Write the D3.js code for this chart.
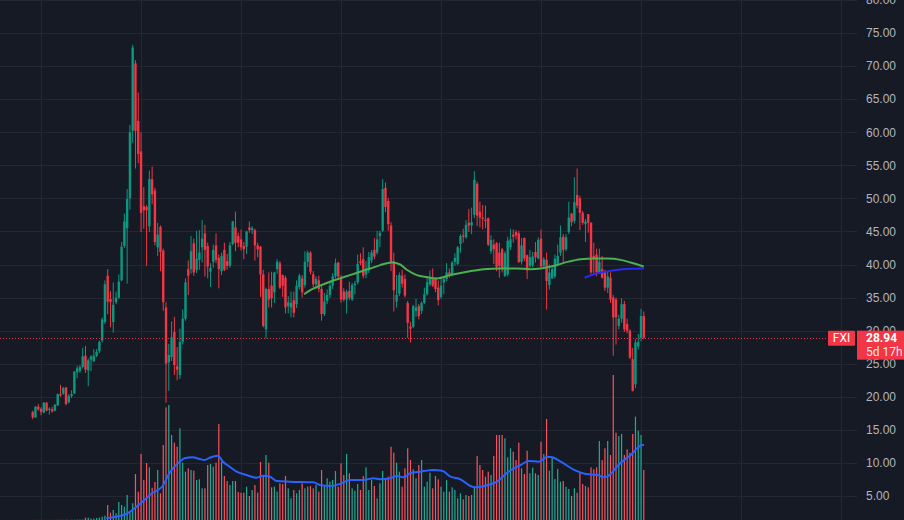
<!DOCTYPE html>
<html>
<head>
<meta charset="utf-8">
<script src="https://cdn.jsdelivr.net/npm/d3@7"></script>
<style>
html, body { margin: 0; padding: 0; background: #161a25; overflow: hidden; }
svg { display: block; }
</style>
</head>
<body>
<script>
var ticker = "FXI";
var lastPrice = 28.94;
var countdown = "5d 17h";
var firstYear = 2004, firstMonth = 10;   // first monthly bar: Oct 2004
var gridYears = [2005, 2008, 2011, 2014, 2017, 2020, 2023, 2026, 2029];
var priceTicks = [5, 10, 15, 20, 25, 30, 35, 40, 45, 50, 55, 60, 65, 70, 75, 80];

// monthly bars [open, high, low, close]
var ohlc = [
  [17.7,17.9,16.6,16.9],[16.9,18.6,16.8,18.5],[18.5,18.9,17.9,18.1],[18.2,18.4,17.2,17.7],[17.6,19.2,17.5,19.1],
  [19.1,19.2,17.8,17.9],[18.0,18.4,17.3,18.2],[18.1,18.5,17.6,17.8],[17.9,18.9,17.8,18.8],[18.7,20.5,18.6,20.4],
  [20.4,21.8,20.0,20.2],[20.5,21.5,20.3,21.3],[21.4,21.5,18.7,18.9],[19.2,20.4,19.0,20.1],[20.1,21.0,19.8,20.4],
  [20.5,23.9,20.4,23.8],[23.7,24.7,22.8,24.3],[23.9,24.8,23.6,24.5],[24.5,27.4,24.3,26.1],[26.2,27.7,23.6,24.1],
  [24.0,25.8,21.6,25.5],[25.6,26.3,23.9,26.1],[25.4,27.2,25.2,26.2],[26.2,27.2,26.0,26.8],[26.9,28.5,26.6,28.3],
  [28.5,32.0,28.2,31.7],[31.3,37.6,31.0,37.0],[38.3,39.3,32.5,34.4],[34.8,36.0,30.5,34.3],[31.3,37.3,29.7,33.9],
  [34.3,35.9,34.0,35.0],[35.0,38.5,34.8,37.4],[37.6,43.4,37.5,42.7],[42.8,47.7,42.5,46.5],[45.5,51.4,37.1,49.9],
  [50.0,61.1,48.3,60.0],[60.2,73.2,58.4,72.8],[70.4,70.9,54.5,60.2],[61.7,66.0,55.3,56.7],[57.1,60.0,44.9,47.8],
  [48.8,51.7,45.4,48.2],[48.7,49.0,39.8,48.2],[45.8,54.2,44.9,52.9],[52.9,54.8,49.1,50.6],[51.2,51.6,42.9,43.4],
  [42.6,46.3,41.3,44.5],[45.7,45.9,39.0,41.9],[42.1,42.4,33.0,34.3],[33.5,34.3,19.1,25.0],[25.2,28.0,20.9,26.3],
  [26.0,31.4,25.4,29.0],[29.8,32.1,23.3,24.8],[24.6,27.5,22.5,24.1],[23.3,30.3,22.7,28.3],[28.3,33.2,27.9,31.8],
  [31.8,37.9,31.5,37.3],[39.3,40.6,35.4,38.3],[39.3,44.3,38.6,42.0],[43.2,43.9,38.3,38.8],[39.2,45.1,38.7,40.9],
  [40.7,45.2,39.2,41.8],[42.6,46.7,40.3,43.9],[44.7,46.0,38.2,42.2],[42.8,43.3,37.9,39.7],[38.9,40.2,36.6,39.5],
  [40.4,43.0,39.5,42.2],[42.9,44.7,40.2,40.7],[41.0,41.5,36.4,39.3],[39.0,41.8,38.4,41.3],[42.2,43.3,39.0,39.2],
  [40.5,41.6,39.2,39.8],[39.8,43.4,39.5,42.9],[43.1,46.6,42.9,46.5],[45.6,48.0,42.0,43.3],[44.3,44.8,42.6,43.3],
  [43.8,45.3,42.1,42.6],[42.8,43.4,40.8,42.3],[42.7,45.1,41.6,45.0],[45.6,46.5,44.8,45.2],[45.2,45.8,44.6,45.5],
  [45.2,45.4,40.6,42.9],[42.9,43.3,41.1,42.3],[42.7,42.8,35.1,38.5],[38.5,39.2,30.5,30.7],[30.2,36.5,28.8,36.3],
  [36.3,38.8,33.5,34.7],[36.8,38.9,33.5,34.9],[35.8,38.9,34.2,38.8],[39.3,40.8,38.6,40.4],[40.2,40.5,36.3,36.5],
  [38.4,38.5,35.1,36.8],[38.0,38.3,32.6,33.5],[33.7,35.2,32.6,34.3],[33.5,35.9,32.0,34.2],[34.6,35.9,32.0,32.7],
  [34.0,37.6,33.4,36.8],[36.6,38.6,36.2,38.3],[37.9,38.4,35.0,35.8],[36.9,42.0,36.5,40.4],[40.4,42.1,39.6,41.8],
  [41.8,42.0,38.5,38.9],[38.5,39.0,36.6,37.0],[37.0,38.2,36.3,37.8],[37.6,38.3,35.8,36.3],[36.3,36.8,31.5,32.5],
  [32.5,35.7,32.2,34.4],[34.5,36.2,34.0,35.4],[35.4,37.4,34.9,36.8],[36.8,38.7,36.3,38.2],[38.2,40.9,37.9,40.2],
  [40.3,40.4,37.7,38.2],[38.0,38.4,34.2,34.7],[35.9,36.4,34.4,34.7],[34.7,36.2,32.6,35.9],[36.0,37.4,34.6,35.0],
  [34.7,37.2,34.5,36.9],[36.9,37.5,35.5,37.1],[37.3,41.5,37.0,40.1],[40.5,41.7,39.9,40.2],[40.8,42.6,37.9,38.3],
  [38.5,40.5,37.9,39.4],[39.1,41.9,38.7,41.1],[40.6,42.2,40.2,41.8],[42.2,44.0,40.8,41.2],[41.8,45.1,41.5,43.8],
  [44.3,45.1,42.6,44.8],[45.1,52.9,44.9,51.4],[51.6,52.4,47.9,48.7],[49.6,50.1,45.1,46.1],[45.9,46.4,39.0,40.3],
  [40.5,41.8,32.9,36.1],[34.4,38.4,33.5,35.4],[35.6,38.8,35.2,38.4],[38.3,39.2,36.5,37.1],[37.8,38.5,35.0,35.3],
  [34.2,34.5,28.9,31.2],[30.6,31.3,28.2,30.3],[30.6,33.9,30.4,33.7],[33.0,34.8,32.1,33.5],[33.7,34.0,31.7,32.2],
  [33.0,34.4,32.5,34.2],[34.2,36.5,34.0,35.5],[35.5,38.0,35.3,37.3],[37.0,39.1,36.7,38.0],[38.0,39.4,36.6,36.8],
  [37.8,38.0,35.8,36.3],[36.5,37.6,33.8,34.6],[35.1,37.9,34.8,36.8],[37.3,38.0,35.5,37.8],[37.8,40.2,37.5,38.8],
  [38.8,39.4,38.0,38.5],[38.5,40.5,38.2,40.3],[40.4,41.7,39.8,41.0],[40.1,42.8,39.9,42.6],[43.1,44.6,41.8,44.3],
  [44.4,45.4,43.3,44.2],[44.1,46.7,43.9,46.0],[46.3,48.4,44.9,45.9],[45.9,48.6,44.6,46.4],[47.5,54.1,47.0,52.8],
  [52.2,52.5,45.8,47.4],[48.0,49.5,45.6,47.1],[47.1,49.0,45.3,46.9],[46.8,48.9,45.5,46.6],[47.0,47.1,42.8,43.0],
  [42.0,44.4,41.6,43.7],[43.0,43.8,40.1,42.3],[43.2,43.4,39.0,39.6],[41.8,43.3,38.0,39.8],[42.3,42.5,38.8,39.3],
  [38.3,42.0,38.1,41.7],[38.5,44.2,38.2,43.6],[42.6,45.4,42.2,43.8],[44.5,45.3,43.3,44.2],[44.9,45.2,43.8,44.4],
  [44.7,45.1,40.2,40.4],[40.4,44.0,40.0,42.9],[44.0,44.1,40.5,40.9],[41.4,41.5,37.8,39.1],[39.8,42.2,39.5,41.1],
  [39.9,41.9,39.6,41.2],[41.9,43.4,40.3,41.1],[40.9,44.1,40.8,43.7],[43.9,45.3,39.6,39.7],[39.8,41.1,39.5,40.8],
  [40.7,41.8,33.2,37.5],[36.9,40.0,36.2,38.8],[37.9,39.8,37.8,39.3],[38.2,41.5,37.9,40.9],[39.9,43.0,39.7,41.3],
  [41.8,45.9,41.3,44.1],[44.2,44.6,40.4,42.2],[42.3,44.6,42.0,44.1],[44.9,49.5,44.6,47.1],[47.7,47.8,45.8,46.4],
  [46.6,53.2,46.2,49.4],[50.5,54.5,48.5,48.9],[50.0,50.4,45.2,47.8],[47.8,48.1,46.0,46.3],[46.1,46.9,43.4,46.5],
  [47.6,47.6,44.8,46.3],[46.3,46.4,38.6,38.8],[41.3,43.3,38.6,40.9],[41.5,42.4,38.2,38.8],[38.8,42.4,38.6,40.4],
  [39.3,41.3,37.9,38.0],[39.0,39.2,36.0,36.5],[36.5,39.0,35.7,38.2],[38.0,38.8,34.2,34.7],[35.0,35.4,26.2,32.0],
  [34.7,35.0,27.9,32.0],[30.7,32.4,30.2,31.8],[31.8,34.9,31.2,34.0],[34.0,34.5,29.8,30.2],[31.0,31.8,29.6,30.0],
  [30.0,30.2,25.7,25.9],[25.7,27.4,20.8,20.9],[21.9,28.7,21.3,28.2],[27.6,29.5,27.2,28.3],[28.9,33.3,28.4,32.2],
  [32.2,32.9,28.7,28.94]
];

// monthly volume (millions of shares)
var volume = [
  0.1,0.1,0.1,0.1,0.1,0.1,0.1,0.1,0.1,0.2,
  0.2,0.2,0.3,0.2,0.2,0.3,0.4,0.4,0.5,2.3,
  2.3,1.5,1.5,2.0,2.5,3.3,4.3,15,7.3,10,
  6.7,18,15,13.3,25,8.3,16.7,46,28.3,66,
  40,57,52.7,32.3,38,50,26.7,75,112.7,115,
  85,77.3,73.3,91.7,57.3,48.3,51.7,50,49.3,40,
  40.7,31.7,31.7,55,56,53.3,57.3,96,58.3,44,
  39,35,39,39,28,27.3,27.3,33.3,24,30,
  35,27.3,58,45,65,57.3,32.7,33.3,28.3,36.7,
  36,44,31.7,21.7,30,26.7,30,36.7,31.7,33.3,
  34,31.7,35,28.3,50,33.3,41.7,38.3,40,49,
  33.3,56.7,45,66,46.7,31.7,29.3,36,30,44,
  52.7,30,40,34,21.7,36.7,49,40,43.3,73.3,
  67.3,57.3,48.3,33.3,51.7,71.7,60,50.7,41.7,55,
  60,33.3,38.3,47.3,31.7,44,40.7,33.3,28.3,40,
  28.3,32.7,30,21.7,26.7,20.7,25,24,25,33.3,
  64,55,50,43.3,48.3,45,64,85,85,85,
  81.7,62.7,71.7,68.3,60,77.3,51.7,46,69.3,46.7,
  52.3,46.7,45,78.3,66,101,49.3,62.7,41,51,
  38.3,39,33.3,31,24,31.7,27.3,47.3,36,34,
  32.7,52.7,50.7,52.7,79,60,71.7,79,65,145,
  87.3,84,86,65,70.7,67.3,86,103.3,89.3,85,
  50
];

// moving averages: [bar index, value]
var maGreen = [[97.7,35.5],[99.8,36.1],[103.4,36.8],[107,37.4],[110.6,37.9],[114.2,38.4],[117.9,38.9],
  [121.5,39.4],[125.1,39.9],[127.5,40.2],[129.3,40.3],[132.3,40.0],[134.7,39.2],[138.3,38.4],[141.9,38.1],
  [145.6,37.9],[150.4,38.4],[156.4,38.9],[162.4,39.3],[168.4,39.4],[174.4,39.4],[179.2,39.3],[182.8,39.4],
  [187.7,39.8],[192.5,40.4],[197.3,40.8],[202.1,40.9],[206.9,40.9],[211.7,40.7],[215.3,40.3],[220,39.7]];
var maBlue = [[198.7,38.0],[202.6,38.6],[207.4,39.0],[212.2,39.3],[220,39.4]];
var volMa = [[26.5,1.7],[30,3.3],[33.6,6],[35.9,10],[39.5,18.3],[43.1,27],[46.8,34],[49.3,47.3],
  [52.9,58.3],[54.7,61.7],[57.6,62.7],[60.1,61],[61.9,60],[63.7,62.3],[66.7,64.3],[68.5,58.3],[70.9,53.3],
  [73.4,48.3],[77,45],[80.6,42.3],[83,44.3],[85.4,43.3],[87.8,39],[92.6,38.3],[101,37.7],[103.4,35],
  [107,34],[110.6,36],[114.3,40],[119.1,40],[122.7,41.7],[125.1,40.7],[128.7,41.7],[131.1,44],[133.5,42.7],
  [135.9,46.7],[139.5,48.3],[144.3,50],[147.4,49.3],[150.4,43.3],[154,40.7],[157.6,34],[159.4,32.7],
  [163.6,34.7],[167.2,38.3],[170.8,47.3],[175.6,55],[178.6,59],[182.2,58.3],[185.3,63.3],[187.1,62.7],
  [190.1,58.3],[195.5,49.3],[199.1,46],[203.3,45],[205.7,42.7],[208.1,46],[210.5,54],[215.3,65],
  [219.5,75],[220.1,75]];

var W = 904, H = 520, plotRight = 857;
var upColor = "#089981", downColor = "#f23645";

var svg = d3.select("body").append("svg")
  .attr("width", W)
  .attr("height", H)
  .style("font-family", "Roboto, 'Noto Sans', sans-serif");

svg.append("rect").attr("width", W).attr("height", H).attr("fill", "#161a25");

var x = d3.scaleLinear().domain([0, ohlc.length - 1]).range([32.7, 643.8]);
var y = d3.scaleLinear().domain([5, 75]).range([496, 33]);
var yVol = d3.scaleLinear().domain([0, 150]).range([H, H - 150]);

// grid
var grid = svg.append("g").attr("stroke", "#232734").attr("stroke-width", 1);
grid.selectAll("line.h")
  .data(priceTicks)
  .enter().append("line")
    .attr("class", "h")
    .attr("x1", 0).attr("x2", plotRight)
    .attr("y1", function(d){ return Math.round(y(d)) + 0.5; })
    .attr("y2", function(d){ return Math.round(y(d)) + 0.5; });
grid.selectAll("line.v")
  .data(gridYears)
  .enter().append("line")
    .attr("class", "v")
    .attr("x1", function(d){ return Math.round(x((d - firstYear) * 12 + 1 - firstMonth)) + 0.5; })
    .attr("x2", function(d){ return Math.round(x((d - firstYear) * 12 + 1 - firstMonth)) + 0.5; })
    .attr("y1", 0).attr("y2", H);

function isUp(i) { return ohlc[i][3] >= ohlc[i][0]; }

// volume
svg.append("g").selectAll("rect")
  .data(volume)
  .enter().append("rect")
    .attr("x", function(d, i){ return x(i) - 0.6; })
    .attr("width", 1.2)
    .attr("y", function(d){ return yVol(d); })
    .attr("height", function(d){ return H - yVol(d); })
    .attr("fill", function(d, i){ return isUp(i) ? "#22ab94" : "#f7525f"; });

svg.append("path")
  .datum(volMa)
  .attr("fill", "none")
  .attr("stroke", "#2962ff")
  .attr("stroke-width", 2)
  .attr("d", d3.line()
    .x(function(d){ return x(d[0]); })
    .y(function(d){ return yVol(d[1]); })
    .curve(d3.curveMonotoneX));

// candles
var candles = svg.append("g").selectAll("g")
  .data(ohlc)
  .enter().append("g")
    .attr("fill", function(d){ return d[3] >= d[0] ? upColor : downColor; })
    .attr("stroke", function(d){ return d[3] >= d[0] ? upColor : downColor; });

candles.append("line")
  .attr("x1", function(d, i){ return x(i); })
  .attr("x2", function(d, i){ return x(i); })
  .attr("y1", function(d){ return y(d[1]); })
  .attr("y2", function(d){ return y(d[2]); })
  .attr("stroke-width", 1);

candles.append("rect")
  .attr("stroke", "none")
  .attr("x", function(d, i){ return x(i) - 1.2; })
  .attr("width", 2.4)
  .attr("y", function(d){ return y(Math.max(d[0], d[3])); })
  .attr("height", function(d){ return Math.max(1, Math.abs(y(d[0]) - y(d[3]))); });

// price moving averages
var maLine = d3.line()
  .x(function(d){ return x(d[0]); })
  .y(function(d){ return y(d[1]); })
  .curve(d3.curveMonotoneX);

svg.append("path").datum(maGreen)
  .attr("fill", "none").attr("stroke", "#4caf50").attr("stroke-width", 2)
  .attr("d", maLine);
svg.append("path").datum(maBlue)
  .attr("fill", "none").attr("stroke", "#2a2af2").attr("stroke-width", 2)
  .attr("d", maLine);

// last price line
svg.append("line")
  .attr("x1", 0).attr("x2", 828)
  .attr("y1", Math.round(y(lastPrice)) + 0.5)
  .attr("y2", Math.round(y(lastPrice)) + 0.5)
  .attr("stroke", downColor)
  .attr("stroke-width", 1)
  .attr("stroke-dasharray", "1,2");

// price axis
var axis = svg.append("g")
  .attr("transform", "translate(" + plotRight + ",0)")
  .call(d3.axisRight(y).tickValues(priceTicks).tickFormat(d3.format(".2f")).tickSize(0).tickPadding(9));
axis.select(".domain").remove();
axis.selectAll("text")
  .attr("fill", "#b2b5be")
  .style("font-size", "12px");

// ticker and last price tags
var ly = y(lastPrice);
svg.append("rect")
  .attr("x", 828).attr("y", ly - 7).attr("width", 27).attr("height", 15)
  .attr("rx", 1).attr("fill", downColor);
svg.append("text")
  .attr("x", 841.5).attr("y", ly + 4.5)
  .attr("text-anchor", "middle")
  .attr("fill", "#ffffff")
  .style("font-size", "12px")
  .text(ticker);

svg.append("rect")
  .attr("x", plotRight).attr("y", ly - 7).attr("width", W - plotRight).attr("height", 29)
  .attr("fill", downColor);
svg.append("text")
  .attr("x", 866).attr("y", ly + 4.5)
  .attr("fill", "#ffffff")
  .style("font-size", "12px")
  .style("font-weight", "bold")
  .text(d3.format(".2f")(lastPrice));
svg.append("text")
  .attr("x", 866).attr("y", ly + 18.5)
  .attr("fill", "#ffffff")
  .attr("fill-opacity", 0.9)
  .style("font-size", "12px")
  .text(countdown);
</script>
</body>
</html>
